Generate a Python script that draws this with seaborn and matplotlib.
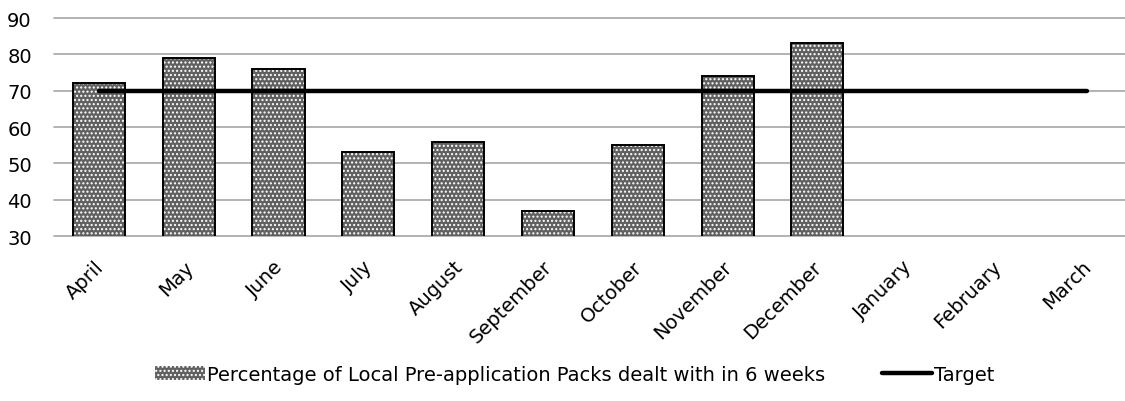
import matplotlib
matplotlib.use("Agg")
import matplotlib.pyplot as plt
import matplotlib.transforms as mtransforms
import seaborn as sns
import numpy as np
import pandas as pd
from matplotlib.patches import Patch, Rectangle
from matplotlib.lines import Line2D

months = ["April", "May", "June", "July", "August", "September", "October",
          "November", "December", "January", "February", "March"]
percentages = [72, 79, 76, 53, 56, 37, 55, 74, 83, np.nan, np.nan, np.nan]
target = [70] * 12
yticks = [30, 40, 50, 60, 70, 80, 90]

sns.set_theme(style="white")
plt.rcParams['font.family'] = ['DejaVu Sans']
plt.rcParams['hatch.linewidth'] = 1.0

BAR_FACE = "#606060"
HATCH = "...."
FS = 14
df = pd.DataFrame({"month": months, "pct": percentages, "target": target})

fig = plt.figure(figsize=(11.25, 4.02), dpi=100)
ax = fig.add_axes([0.048, 0.4104, 0.958, 0.5423])

sns.barplot(data=df, x="month", y="pct", order=months, color=BAR_FACE,
            width=0.58, ax=ax, saturation=1)
for p in list(ax.patches):
    p.set_hatch(HATCH)
    p.set_edgecolor("white")
    p.set_linewidth(0)
    r = Rectangle(p.get_xy(), p.get_width(), p.get_height(), fill=False,
                  edgecolor="black", linewidth=1.4, zorder=3)
    ax.add_patch(r)

sns.lineplot(x=np.arange(len(months)), y=df["target"], ax=ax, color="black",
             linewidth=3.2, zorder=4)

ax.set_ylim(30, 90)
ax.set_xlim(-0.5, 11.5)
ax.set_yticks(yticks)
ax.set_yticklabels([str(v) for v in yticks], fontsize=FS, color="black")
ax.set_xticks(range(len(months)))
ax.set_xticklabels(months, rotation=45, ha="right", rotation_mode="anchor",
                   fontsize=FS, color="black")
ax.tick_params(axis="x", pad=15, length=0)
ax.tick_params(axis="y", length=0, pad=16)
offset = mtransforms.ScaledTranslation(-5 / 100, 0, fig.dpi_scale_trans)
for lbl in ax.get_xticklabels():
    lbl.set_transform(lbl.get_transform() + offset)
ax.grid(axis="y", color="#a6a6a6", linewidth=1.2)
for gl in ax.get_ygridlines():
    gl.set_clip_on(False)
ax.set_axisbelow(True)
for s in ax.spines.values():
    s.set_visible(False)
ax.set_xlabel("")
ax.set_ylabel("")

handles = [Patch(facecolor=BAR_FACE, edgecolor="white", hatch=HATCH, linewidth=0),
           Line2D([0], [0], color="black", linewidth=3.2)]
labels = ["Percentage of Local Pre-application Packs dealt with in 6 weeks", "Target"]
fig.legend(handles, labels, loc="center", bbox_to_anchor=(0.511, 0.067), ncol=2,
           frameon=False, fontsize=FS, columnspacing=2.9, handlelength=2.6,
           handletextpad=0.1, labelcolor="black")

fig.savefig("out.png", dpi=100)
